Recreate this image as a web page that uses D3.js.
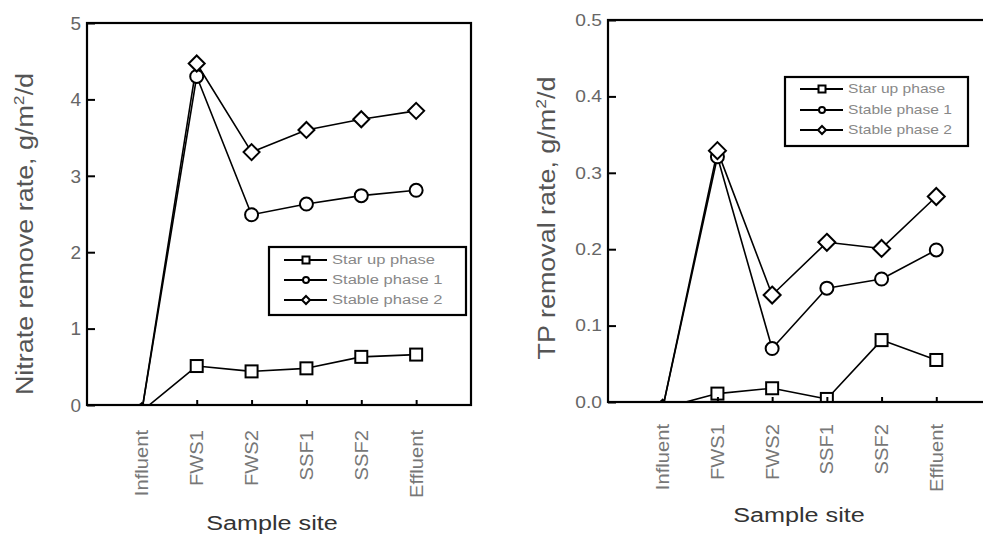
<!DOCTYPE html>
<html><head><meta charset="utf-8">
<script src="https://cdn.jsdelivr.net/npm/d3@7"></script>
<style>body{margin:0;background:#fff}svg{display:block}</style>
</head><body>
<svg id="c" width="983" height="541"></svg>
<script>
const categories = ["Influent","FWS1","FWS2","SSF1","SSF2","Effluent"];
const seriesNames = ["Star up phase","Stable phase 1","Stable phase 2"];
const nitrateStartUp = [-0.08,0.51,0.44,0.48,0.63,0.66];
const nitrateStable1 = [-0.08,4.30,2.49,2.63,2.74,2.81];
const nitrateStable2 = [-0.08,4.47,3.31,3.60,3.74,3.85];
const tpStartUp = [-0.008,0.011,0.018,0.004,0.081,0.055];
const tpStable1 = [-0.008,0.321,0.070,0.149,0.161,0.199];
const tpStable2 = [-0.008,0.329,0.140,0.209,0.201,0.269];
const nitrateTicks = [0,1,2,3,4,5];
const tpTicks = [0,0.1,0.2,0.3,0.4,0.5];

const svg = d3.select("#c");
const symbols = ["square","circle","diamond"];

function stretch(sel, sx, rot) {
  sel.each(function(){
    const t = d3.select(this);
    const x = +t.attr("data-x"), y = +t.attr("data-y");
    t.attr("transform", `translate(${x},${y}) rotate(${rot||0}) scale(${sx},1)`);
  });
}

function drawMarker(g, type, cx, cy, size) {
  if (type === "square") {
    g.append("rect").attr("x", cx-size/2).attr("y", cy-size/2).attr("width", size).attr("height", size);
  } else if (type === "circle") {
    g.append("circle").attr("cx", cx).attr("cy", cy).attr("r", size/2);
  } else {
    const h = size/2;
    g.append("path").attr("d", `M${cx},${cy-h}L${cx+h},${cy}L${cx},${cy+h}L${cx-h},${cy}Z`);
  }
}

function panel(cfg) {
  const x = d3.scaleLinear().domain([-1, categories.length]).range([cfg.x0, cfg.x1]);
  const y = d3.scaleLinear().domain(cfg.domain).range([cfg.y0, cfg.y1]);
  const g = svg.append("g");
  const clipId = "clip" + cfg.id;
  svg.append("clipPath").attr("id", clipId).append("rect")
    .attr("x", cfg.x0).attr("y", cfg.y1).attr("width", cfg.x1-cfg.x0).attr("height", cfg.y0-cfg.y1);

  const plot = g.append("g").attr("clip-path", `url(#${clipId})`);
  const line = d3.line().x((d,i)=>x(i)).y(d=>y(d));
  cfg.series.forEach((s, si) => {
    plot.append("path").datum(s).attr("d", line).attr("fill","none")
      .attr("stroke","#000").attr("stroke-width", 1.6).attr("stroke-linejoin","round");
  });
  cfg.series.forEach((s, si) => {
    const mg = plot.append("g").attr("fill","#fff").attr("stroke","#000").attr("stroke-width",2);
    s.forEach((v,i) => drawMarker(mg, symbols[si], x(i), y(v), cfg.msize[si]));
  });

  g.append("rect").attr("x", cfg.x0).attr("y", cfg.y1).attr("width", cfg.x1-cfg.x0).attr("height", cfg.y0-cfg.y1)
    .attr("fill","none").attr("stroke","#000").attr("stroke-width",2.2);

  const ya = d3.axisRight(y).tickValues(cfg.ticks).tickSize(8).tickFormat(() => "");
  const yg = g.append("g").attr("transform", `translate(${cfg.x0},0)`).call(ya);
  yg.select(".domain").remove();
  yg.selectAll("line").attr("stroke","#000").attr("stroke-width",2);
  g.selectAll(null).data(cfg.ticks).enter().append("text")
    .attr("data-x", cfg.x0-6).attr("data-y", d=>y(d)).attr("dy","0.36em")
    .attr("text-anchor","end").attr("font-family","Liberation Sans, Arial, sans-serif")
    .attr("font-size", cfg.tickFs).attr("fill","#666").text(d3.format(cfg.fmt))
    .call(stretch, cfg.tickSx, 0);

  const xa = d3.axisTop(x).tickValues(d3.range(1, categories.length)).tickSize(5).tickFormat(() => "");
  const xg = g.append("g").attr("transform", `translate(0,${cfg.y0})`).call(xa);
  xg.select(".domain").remove();
  xg.selectAll("line").attr("stroke","#000").attr("stroke-width",2);
  g.selectAll(null).data(categories).enter().append("text")
    .attr("data-x", (d,i)=>x(i)).attr("data-y", cfg.y0 + cfg.xlabOff).attr("dy","0.36em")
    .attr("text-anchor","end").attr("font-family","Liberation Sans, Arial, sans-serif")
    .attr("font-size", 18).attr("fill","#777").text(d=>d)
    .call(stretch, 1.12, -90);

  g.append("text").attr("data-x", cfg.xtX).attr("data-y", cfg.xtY)
    .attr("text-anchor","middle").attr("font-family","Liberation Sans, Arial, sans-serif")
    .attr("font-size", 21).attr("fill","#333").text("Sample site").call(stretch, 1.2, 0);

  const yt = g.append("text").attr("data-x", cfg.ytX).attr("data-y", cfg.ytY)
    .attr("text-anchor","middle").attr("font-family","Liberation Sans, Arial, sans-serif")
    .attr("font-size", 23).attr("fill","#555");
  yt.append("tspan").text(cfg.ytitle + ", g/m");
  yt.append("tspan").attr("dy", -9).attr("font-size", 15).text("2");
  yt.append("tspan").attr("dy", 9).text("/d");
  yt.call(stretch, 1.17, -90);

  const L = cfg.legend;
  const lg = g.append("g");
  lg.append("rect").attr("x", L.x).attr("y", L.y).attr("width", L.w).attr("height", L.h)
    .attr("fill","#fff").attr("stroke","#000").attr("stroke-width",2.2);
  seriesNames.forEach((n, i) => {
    const ry = L.y + L.rows[i];
    lg.append("line").attr("x1", L.x+15).attr("x2", L.x+58).attr("y1", ry).attr("y2", ry)
      .attr("stroke","#000").attr("stroke-width",2);
    const mg = lg.append("g").attr("fill","#fff").attr("stroke","#000").attr("stroke-width",2);
    drawMarker(mg, symbols[i], L.x+37, ry, [7,6,8][i]);
    lg.append("text").attr("data-x", L.x+63).attr("data-y", ry).attr("dy","0.36em")
      .attr("font-family","Liberation Sans, Arial, sans-serif").attr("font-size", 12)
      .attr("fill","#888").text(n).call(stretch, L.sx, 0);
  });
}

panel({
  id: "L", x0: 87, x1: 471, y0: 405, y1: 23, domain: [0,5], ticks: nitrateTicks, fmt: "d",
  tickFs: 19, tickSx: 1.0, xlabOff: 25,
  series: [nitrateStartUp, nitrateStable1, nitrateStable2], msize: [12, 13, 16],
  xtX: 272, xtY: 530, ytX: 33, ytY: 234, ytitle: "Nitrate remove rate",
  legend: {x: 269, y: 247, w: 197, h: 68, rows: [13, 33, 53], sx: 1.38}
});
panel({
  id: "R", x0: 608, x1: 991, y0: 402, y1: 20, domain: [0,0.5], ticks: tpTicks, fmt: ".1f",
  tickFs: 16, tickSx: 1.2, xlabOff: 22,
  series: [tpStartUp, tpStable1, tpStable2], msize: [12, 13, 17],
  xtX: 799, xtY: 522, ytX: 555, ytY: 218, ytitle: "TP removal rate",
  legend: {x: 785, y: 77, w: 183, h: 69, rows: [12, 33, 53], sx: 1.3}
});
</script>
</body></html>
